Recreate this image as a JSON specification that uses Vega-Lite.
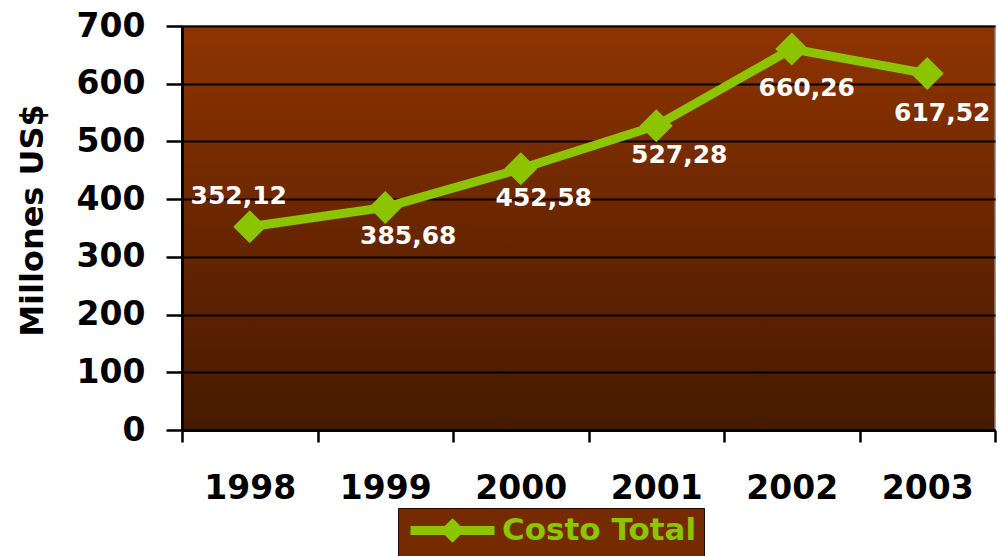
{
  "$schema": "https://vega.github.io/schema/vega-lite/v6.json",
  "autosize": {"type": "none"},
  "width": 813,
  "height": 404,
  "padding": {"left": 182, "top": 26, "right": 3, "bottom": 126},
  "background": "white",
  "config": {
    "font": "DejaVu Sans",
    "locale": {"number": {"decimal": ",", "thousands": ".", "grouping": [3], "currency": ["", " US$"]}},
    "view": {
      "stroke": "#808080",
      "strokeWidth": 1.5,
      "fill": {
        "gradient": "linear", "x1": 0, "y1": 0, "x2": 0, "y2": 1,
        "stops": [
          {"offset": 0, "color": "#8F3400"},
          {"offset": 0.5, "color": "#692600"},
          {"offset": 1, "color": "#461A00"}
        ]
      }
    }
  },
  "data": {
    "values": [
      {"year": "1998", "cost": 352.12},
      {"year": "1999", "cost": 385.68},
      {"year": "2000", "cost": 452.58},
      {"year": "2001", "cost": 527.28},
      {"year": "2002", "cost": 660.26},
      {"year": "2003", "cost": 617.52}
    ]
  },
  "encoding": {
    "x": {
      "field": "year", "type": "nominal",
      "scale": {"type": "band", "paddingInner": 0, "paddingOuter": 0},
      "axis": {
        "title": null, "labelAngle": 0,
        "labelFont": "DejaVu Sans", "labelFontSize": 33, "labelFontWeight": "bold", "labelColor": "black",
        "labelPadding": 30, "tickSize": 12, "tickWidth": 2.5, "tickColor": "black",
        "tickBand": "extent", "domainColor": "black", "domainWidth": 3
      }
    },
    "y": {
      "field": "cost", "type": "quantitative",
      "scale": {"domain": [0, 700], "nice": false},
      "axis": {
        "title": "Millones US$",
        "titleFont": "DejaVu Sans", "titleFontSize": 32, "titleFontWeight": "bold", "titleColor": "black",
        "titleAngle": 270, "titleX": -140, "titleY": 194, "titleBaseline": "alphabetic", "titleAlign": "center",
        "values": [0, 100, 200, 300, 400, 500, 600, 700],
        "labelFont": "DejaVu Sans", "labelFontSize": 33, "labelFontWeight": "bold", "labelColor": "black",
        "labelPadding": 21, "tickSize": 16, "tickWidth": 2.5, "tickColor": "black",
        "domainColor": "black", "domainWidth": 3,
        "grid": true, "gridColor": "black", "gridWidth": 2
      }
    }
  },
  "layer": [
    {
      "mark": {"type": "line", "color": "#8CC400", "strokeWidth": 9}
    },
    {
      "mark": {"type": "point", "shape": "diamond", "filled": true, "size": 1089, "opacity": 1},
      "encoding": {
        "color": {
          "datum": "Costo Total",
          "scale": {"range": ["#8CC400"]},
          "legend": {
            "title": null,
            "orient": "none", "legendX": 216, "legendY": 482,
            "padding": 7,
            "fillColor": "#762A00",
            "strokeColor": "#1A0A00",
            "symbolType": "M-7,0H7M0,-1L1,0L0,1L-1,0Z",
            "symbolSize": 144,
            "symbolStrokeWidth": 9,
            "symbolStrokeColor": "#8CC400",
            "symbolFillColor": "#8CC400",
            "symbolOffset": 32,
            "labelFont": "DejaVu Sans", "labelFontSize": 31, "labelFontWeight": "bold",
            "labelColor": "#8CC400", "labelOffset": 34, "labelLimit": 400
          }
        }
      }
    },
    {
      "transform": [{"filter": "datum.year == '1998'"}],
      "mark": {"type": "text", "font": "DejaVu Sans", "fontSize": 25, "fontWeight": "bold", "color": "white", "dx": -11, "dy": -31},
      "encoding": {"text": {"field": "cost", "type": "quantitative", "format": ".2f"}}
    },
    {
      "transform": [{"filter": "datum.year == '1999' || datum.year == '2000' || datum.year == '2001'"}],
      "mark": {"type": "text", "font": "DejaVu Sans", "fontSize": 25, "fontWeight": "bold", "color": "white", "dx": 23, "dy": 29},
      "encoding": {"text": {"field": "cost", "type": "quantitative", "format": ".2f"}}
    },
    {
      "transform": [{"filter": "datum.year == '2002' || datum.year == '2003'"}],
      "mark": {"type": "text", "font": "DejaVu Sans", "fontSize": 25, "fontWeight": "bold", "color": "white", "dx": 15, "dy": 39},
      "encoding": {"text": {"field": "cost", "type": "quantitative", "format": ".2f"}}
    }
  ]
}
